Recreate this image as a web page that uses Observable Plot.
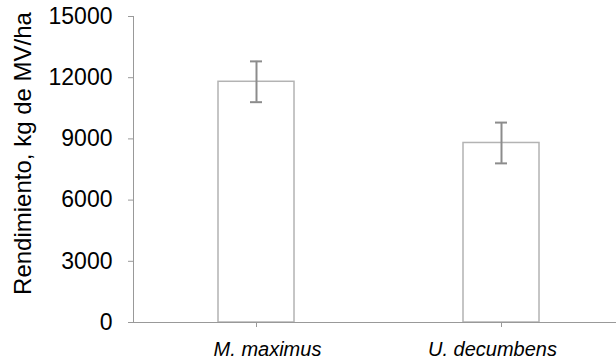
<!DOCTYPE html>
<html>
<head>
<meta charset="utf-8">
<script src="https://cdn.jsdelivr.net/npm/d3@7"></script>
<script src="https://cdn.jsdelivr.net/npm/@observablehq/plot@0.6"></script>
<style>
  body { margin: 0; background: #fff; }
  #chart svg { font-family: "Liberation Sans", Arial, sans-serif; }
</style>
</head>
<body>
<div id="chart"></div>
<script>
const species = ["M. maximus", "U. decumbens"];
const yields = [11800, 8800];
const errors = [1000, 1000];
const yTicks = [0, 3000, 6000, 9000, 12000, 15000];
const yLabel = "Rendimiento, kg de MV/ha";

const data = species.map((s, i) => ({species: s, y: yields[i], lo: yields[i] - errors[i], hi: yields[i] + errors[i]}));

const chart = Plot.plot({
  width: 616,
  height: 363,
  marginLeft: 133,
  marginRight: 0,
  marginTop: 16,
  marginBottom: 41,
  style: {fontFamily: "Liberation Sans, Arial, sans-serif", background: "#fff"},
  x: {domain: species, range: [133, 624], paddingInner: 0.69, paddingOuter: 0.345, label: null},
  y: {domain: [0, 15000], label: null},
  marks: [
    Plot.barY(data, {x: "species", y: "y", fill: "#fff", stroke: "#b3b3b3", strokeWidth: 1.5}),
    Plot.ruleX(data, {x: "species", y1: "lo", y2: "hi", stroke: "#8c8c8c", strokeWidth: 2}),
    Plot.tickY(data, {x: "species", y: "lo", stroke: "#8c8c8c", strokeWidth: 2, insetLeft: 32, insetRight: 32}),
    Plot.tickY(data, {x: "species", y: "hi", stroke: "#8c8c8c", strokeWidth: 2, insetLeft: 32, insetRight: 32}),
    Plot.frame({anchor: "left", stroke: "#999"}),
    Plot.ruleY([0], {stroke: "#999", strokeWidth: 1.2}),
    Plot.axisY({ticks: yTicks, tickFormat: d => String(d), tickSize: 5, tickPadding: 16, stroke: "#999", fill: "#000", fontSize: 23, label: null}),
    Plot.axisX({tickSize: 5, tickFormat: () => "", stroke: "#999", label: null}),
    Plot.text(data.slice(0, 1), {x: "species", text: "species", frameAnchor: "bottom", dy: 33, dx: 11, fontSize: 20, fontStyle: "italic", fill: "#000"}),
    Plot.text(data.slice(1), {x: "species", text: "species", frameAnchor: "bottom", dy: 33, dx: -9, fontSize: 20, fontStyle: "italic", fill: "#000"}),
    Plot.text([yLabel], {frameAnchor: "left", dx: -110, dy: -16, rotate: -90, textAnchor: "middle", fontSize: 24, fill: "#000"})
  ]
});
document.getElementById("chart").appendChild(chart);
</script>
</body>
</html>
